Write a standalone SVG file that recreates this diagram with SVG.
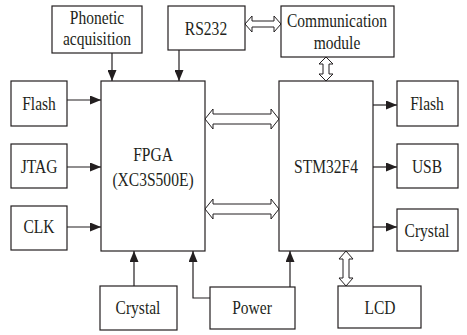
<svg xmlns="http://www.w3.org/2000/svg" width="467" height="335" viewBox="0 0 467 335">
<style>
.box{fill:#fff;stroke:#231f20;stroke-width:1.2}
.t{font-family:'Liberation Serif','Times New Roman',serif;font-size:18.5px;fill:#231f20;text-anchor:middle}
.ln{fill:none;stroke:#231f20;stroke-width:1.2}
.dbl{fill:#fff;stroke:#231f20;stroke-width:1}
</style>
<defs>
<marker id="ah" viewBox="0 0 11 9" refX="11" refY="4.5" markerWidth="11" markerHeight="9" markerUnits="userSpaceOnUse" orient="auto">
<path d="M0,0 L11,4.5 L0,9 Z" fill="#231f20"/>
</marker>
</defs>
<rect width="467" height="335" fill="#fff"/>
<g id="connectors">
<line class="ln" x1="112" y1="53" x2="112" y2="81" marker-end="url(#ah)"/>
<line class="ln" x1="179" y1="50" x2="179" y2="81" marker-end="url(#ah)"/>
<line class="ln" x1="67" y1="100" x2="101" y2="100" marker-end="url(#ah)"/>
<line class="ln" x1="67" y1="167" x2="101" y2="167" marker-end="url(#ah)"/>
<line class="ln" x1="67" y1="227" x2="101" y2="227" marker-end="url(#ah)"/>
<line class="ln" x1="134" y1="286" x2="134" y2="251" marker-end="url(#ah)"/>
<polyline class="ln" points="210,298 193,298 193,251" marker-end="url(#ah)"/>
<line class="ln" x1="290" y1="287" x2="290" y2="251" marker-end="url(#ah)"/>
<line class="ln" x1="373" y1="105" x2="397" y2="105" marker-end="url(#ah)"/>
<line class="ln" x1="373" y1="167" x2="397" y2="167" marker-end="url(#ah)"/>
<line class="ln" x1="373" y1="227" x2="397" y2="227" marker-end="url(#ah)"/>
<path class="dbl" d="M205,119 L213,109 L213,114 L271,114 L271,109 L279,119 L271,129 L271,124 L213,124 L213,129 Z"/>
<path class="dbl" d="M205,209 L213,199 L213,204 L271,204 L271,199 L279,209 L271,219 L271,214 L213,214 L213,219 Z"/>
<path class="dbl" d="M245,24 L252,16 L252,21 L274,21 L274,16 L281,24 L274,32 L274,27 L252,27 L252,32 Z"/>
<path class="dbl" d="M326,57 L333,64 L329,64 L329,74 L333,74 L326,81 L319,74 L323,74 L323,64 L319,64 Z"/>
<path class="dbl" d="M346,251 L353,259 L349,259 L349,278 L353,278 L346,286 L339,278 L343,278 L343,259 L339,259 Z"/>
</g>
<g id="phonetic"><rect class="box" x="52" y="6" width="90" height="47"/><text class="t" transform="translate(97,24) scale(0.84,1)">Phonetic</text><text class="t" transform="translate(97,45) scale(0.84,1)">acquisition</text></g>
<g id="rs232"><rect class="box" x="168" y="6" width="77" height="44"/><text class="t" transform="translate(206,35) scale(0.84,1)">RS232</text></g>
<g id="comm"><rect class="box" x="281" y="6" width="113" height="51"/><text class="t" transform="translate(337,27) scale(0.84,1)">Communication</text><text class="t" transform="translate(337,49) scale(0.84,1)">module</text></g>
<g id="fpga"><rect class="box" x="101" y="81" width="104" height="170"/><text class="t" transform="translate(153,161) scale(0.84,1)">FPGA</text><text class="t" transform="translate(153,186) scale(0.84,1)">(XC3S500E)</text></g>
<g id="stm32"><rect class="box" x="279" y="81" width="94" height="170"/><text class="t" transform="translate(326,173) scale(0.84,1)">STM32F4</text></g>
<g id="flash-l"><rect class="box" x="11" y="81" width="56" height="45"/><text class="t" transform="translate(39,110) scale(0.84,1)">Flash</text></g>
<g id="jtag"><rect class="box" x="11" y="144" width="56" height="44"/><text class="t" transform="translate(39,173) scale(0.84,1)">JTAG</text></g>
<g id="clk"><rect class="box" x="11" y="206" width="56" height="44"/><text class="t" transform="translate(39,233) scale(0.84,1)">CLK</text></g>
<g id="flash-r"><rect class="box" x="397" y="81" width="61" height="45"/><text class="t" transform="translate(427,110) scale(0.84,1)">Flash</text></g>
<g id="usb"><rect class="box" x="397" y="144" width="61" height="44"/><text class="t" transform="translate(427,173) scale(0.84,1)">USB</text></g>
<g id="crystal-r"><rect class="box" x="397" y="209" width="61" height="42"/><text class="t" transform="translate(427,237) scale(0.84,1)">Crystal</text></g>
<g id="crystal-b"><rect class="box" x="100" y="286" width="77" height="44"/><text class="t" transform="translate(138,314) scale(0.84,1)">Crystal</text></g>
<g id="power"><rect class="box" x="210" y="287" width="85" height="42"/><text class="t" transform="translate(252,314) scale(0.84,1)">Power</text></g>
<g id="lcd"><rect class="box" x="338" y="286" width="83" height="42"/><text class="t" transform="translate(380,314) scale(0.84,1)">LCD</text></g>
</svg>
